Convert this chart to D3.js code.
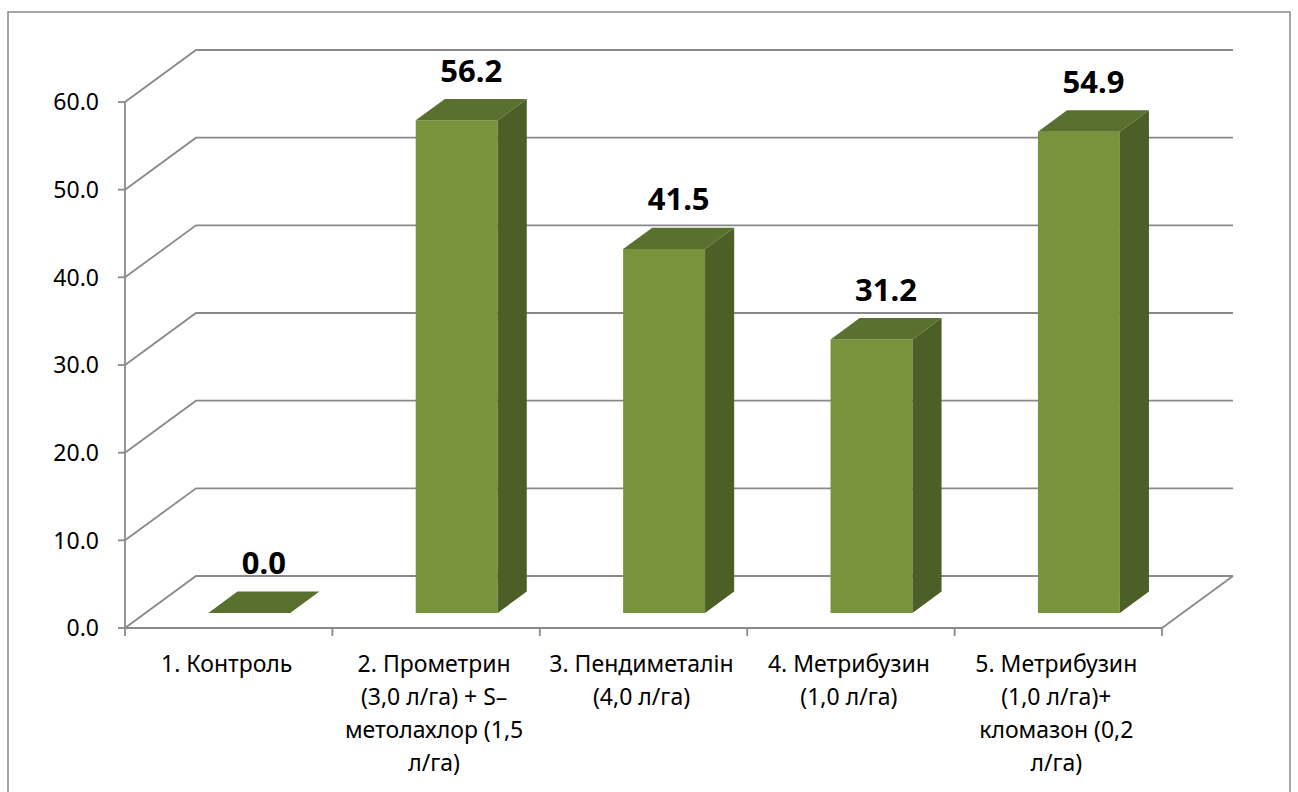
<!DOCTYPE html>
<html>
<head>
<meta charset="utf-8">
<script src="https://cdn.jsdelivr.net/npm/d3@7"></script>
<style>
  html, body { margin: 0; padding: 0; background: #fff; }
  svg { display: block; }
  text { font-family: "Noto Sans", "Open Sans", sans-serif; }
</style>
</head>
<body>
<svg id="chart" width="1298" height="792"></svg>
<script>
// Treatment names (line breaks mark the wrapped lines under the axis)
const categories = [
  "1. Контроль",
  "2. Прометрин\n(3,0 л/га) + S–\nметолахлор (1,5\nл/га)",
  "3. Пендиметалін\n(4,0 л/га)",
  "4. Метрибузин\n(1,0 л/га)",
  "5. Метрибузин\n(1,0 л/га)+\nкломазон (0,2\nл/га)"
];
// Values per treatment
const values = [0.0, 56.2, 41.5, 31.2, 54.9];
// Value-axis ticks
const yTicks = [0, 10, 20, 30, 40, 50, 60];

const svg = d3.select("#chart");

// Front plane of the 3-D box
const plotLeft = 125, plotRight = 1162, plotBottom = 628, plotTop = 102;
// Oblique offset of the back wall
const DX = 71, DY = -52;
// Depth range occupied by the columns (fraction of the full depth)
const F1 = 0.29, F2 = 0.70;

const x = d3.scaleBand()
  .domain(categories)
  .range([plotLeft, plotRight])
  .paddingInner(0.605)
  .paddingOuter(0.3025);

const y = d3.scaleLinear().domain([0, 60]).range([plotBottom, plotTop]);

// project a point (pixel x, value, depth fraction) to screen
const P = (px, v, f) => [px + f * DX, y(v) + f * DY];
const poly = pts => "M" + pts.map(p => p.join(",")).join("L") + "Z";

const gridColor = "#898989";

// outer frame
svg.append("rect")
  .attr("x", 8).attr("y", 12)
  .attr("width", 1282).attr("height", 800)
  .attr("fill", "none").attr("stroke", "#888").attr("stroke-width", 1.5);

// gridlines: left wall diagonal + back wall horizontal
const grid = svg.append("g")
  .attr("fill", "none")
  .attr("stroke", gridColor)
  .attr("stroke-width", 1.8);

grid.selectAll("path.g")
  .data(yTicks)
  .join("path")
  .attr("class", "g")
  .attr("d", v => {
    const a = P(plotLeft, v, 0), b = P(plotLeft, v, 1), c = P(plotRight, v, 1);
    return "M" + a + "L" + b + "L" + c;
  });

// right edge of the floor
grid.append("path")
  .attr("d", "M" + P(plotRight, 0, 0) + "L" + P(plotRight, 0, 1));

// columns
const bars = svg.append("g");
const bw = x.bandwidth();
categories.forEach((c, i) => {
  const v = values[i];
  const x0 = x(c), x1 = x0 + bw;
  const g = bars.append("g");
  g.append("path")
    .attr("d", poly([P(x0, 0, F1), P(x1, 0, F1), P(x1, v, F1), P(x0, v, F1)]))
    .attr("fill", "#77933C");
  g.append("path")
    .attr("d", poly([P(x1, 0, F1), P(x1, 0, F2), P(x1, v, F2), P(x1, v, F1)]))
    .attr("fill", "#4C5F27");
  g.append("path")
    .attr("d", poly([P(x0, v, F1), P(x1, v, F1), P(x1, v, F2), P(x0, v, F2)]))
    .attr("fill", "#5A702E");
});

// front axes
const axes = svg.append("g")
  .attr("stroke", gridColor)
  .attr("stroke-width", 1.8)
  .attr("fill", "none");
axes.append("line")
  .attr("x1", plotLeft).attr("x2", plotLeft)
  .attr("y1", y(60)).attr("y2", y(0));
axes.append("line")
  .attr("x1", plotLeft).attr("x2", plotRight)
  .attr("y1", y(0)).attr("y2", y(0));
axes.selectAll("line.yt")
  .data(yTicks)
  .join("line")
  .attr("class", "yt")
  .attr("x1", plotLeft - 7).attr("x2", plotLeft)
  .attr("y1", d => y(d)).attr("y2", d => y(d));
const boundaries = categories.map(c => x(c) - x.step() * x.paddingOuter())
  .concat([plotRight]);
axes.selectAll("line.xt")
  .data(boundaries)
  .join("line")
  .attr("class", "xt")
  .attr("x1", d => d).attr("x2", d => d)
  .attr("y1", y(0)).attr("y2", y(0) + 8);

// value-axis labels
svg.append("g")
  .selectAll("text")
  .data(yTicks)
  .join("text")
  .attr("x", 99)
  .attr("y", d => y(d))
  .attr("dy", "0.36em")
  .attr("text-anchor", "end")
  .attr("font-size", 23)
  .attr("fill", "#000")
  .text(d => d3.format(".1f")(d));

// category labels
const catG = svg.append("g")
  .attr("font-size", 23)
  .attr("fill", "#000")
  .attr("text-anchor", "middle");
categories.forEach(c => {
  const cx = x(c) + bw / 2 - 2;
  const t = catG.append("text").attr("x", cx).attr("y", 672);
  c.split("\n").forEach((line, k) => {
    t.append("tspan")
      .attr("x", cx)
      .attr("dy", k === 0 ? 0 : 33)
      .text(line);
  });
});

// data labels above the columns
svg.append("g")
  .selectAll("text")
  .data(values)
  .join("text")
  .attr("x", (d, i) => x(categories[i]) + bw / 2 + (F1 + F2) / 2 * DX)
  .attr("y", d => y(d) + (F1 + F2) / 2 * DY - 28)
  .attr("text-anchor", "middle")
  .attr("font-size", 31)
  .attr("font-weight", "bold")
  .attr("fill", "#000")
  .text(d => d3.format(".1f")(d));
</script>
</body>
</html>
